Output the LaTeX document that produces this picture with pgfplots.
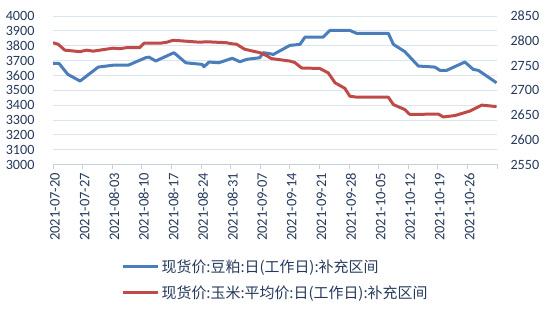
\documentclass[border=0pt]{standalone}
\usepackage{pgfplots}
\pgfplotsset{compat=1.18}
\usepackage{fontspec}
\setmainfont{Carlito}
\newfontfamily\cjk{Noto Sans CJK SC}
\definecolor{sblue}{RGB}{74,126,187}
\definecolor{sred}{RGB}{190,75,72}
\definecolor{tcol}{RGB}{38,58,92}
\definecolor{gridc}{RGB}{220,228,238}
\definecolor{axc}{RGB}{200,208,218}
\pgfplotstableread{
d v
0 3681
1.4 3681
3.5 3607
6.4 3562
10.7 3656
14.6 3670
17.9 3670
21.9 3719
22.7 3723
24.3 3697
28.6 3753
31.4 3685
35.3 3674
35.7 3658
36.9 3690
39.2 3685
42.4 3715
44.2 3692
45.8 3708
48.9 3719
49.7 3753
51.3 3746
52.1 3741
56 3802
58.4 3809
59.6 3858
63.9 3858
65.5 3903
70.2 3903
71.8 3883
79.3 3883
80.5 3809
83.2 3760
86.4 3663
90.3 3656
91.5 3634
93.1 3634
97.4 3690
99.4 3640
100.6 3634
104.9 3550
}\soy
\pgfplotstableread{
d v
0 2796
1.2 2793
2.8 2781
6.4 2778
7.9 2781
9.5 2779
14.2 2785
15.8 2784
17.4 2786
20.5 2786
21.5 2795
25.3 2795
26.9 2797
28.4 2801
31.6 2799
34.7 2797
36.3 2798
41 2796
42.2 2794
43.4 2793
45.3 2783
47.3 2779
48.9 2776
50.5 2770
51.6 2764
56 2759
57.2 2756
58.8 2745
63.1 2744
65.1 2735
66.7 2715
69 2704
70.2 2688
71.8 2686
79.3 2686
80.5 2671
83.2 2661
84.4 2651
91.1 2652
92.3 2646
95.1 2649
98.6 2658
101.4 2670
104.9 2667
}\corn
\begin{document}
\begin{tikzpicture}
\useasboundingbox (0,0) rectangle (550bp,316bp);
\pgfplotsset{
  common/.style={
    at={(53bp,151.5bp)}, anchor=south west,
    scale only axis, width=444bp, height=148.5bp,
    xmin=0, xmax=105,
    /pgf/number format/assume math mode=true,
    /pgf/number format/set thousands separator={},
    tick label style={font=\fontsize{14.2}{15}\selectfont, text=tcol},
    ytick style={draw=none},
  }
}
\begin{axis}[common,
  ymin=3000, ymax=4000,
  ytick={3000,3100,...,4000},
  xtick={0,7,...,105},
  xticklabels={2021-07-20,2021-07-27,2021-08-03,2021-08-10,2021-08-17,2021-08-24,2021-08-31,2021-09-07,2021-09-14,2021-09-21,2021-09-28,2021-10-05,2021-10-12,2021-10-19,2021-10-26,{}},
  x tick label style={rotate=90, anchor=east, font=\fontsize{14.6}{15}\selectfont},
  xticklabel style={yshift=-2bp},
  ymajorgrids, grid style={gridc, line width=0.8bp},
  axis x line*=bottom, axis y line*=left,
  y axis line style={draw=none},
  x axis line style={axc, line width=0.8bp},
  xtick style={axc, line width=0.8bp},
  tick align=outside, major tick length=5bp,
  yticklabel style={xshift=-10bp},
]
\addplot[sblue, line width=3bp, line join=round] table[x=d,y=v]{\soy};
\end{axis}
\begin{axis}[common,
  ymin=2550, ymax=2850,
  ytick={2550,2600,...,2850},
  axis x line=none,
  axis y line*=right,
  y axis line style={draw=none},
  yticklabel style={xshift=10bp},
  legend style={at={(0.153,-0.625)}, anchor=north west, draw=none, fill=none,
    font=\cjk\fontsize{15}{16}\selectfont, text=tcol, row sep=8bp, inner sep=0pt},
  legend cell align=left,
  legend image code/.code={\draw[#1, line width=3.5bp] (0bp,0bp) -- (35bp,0bp);},
]
\addlegendimage{sblue}
\addlegendentry{现货价:豆粕:日(工作日):补充区间}
\addplot[sred, line width=3bp, line join=round] table[x=d,y=v]{\corn};
\addlegendentry{现货价:玉米:平均价:日(工作日):补充区间}
\end{axis}
\end{tikzpicture}
\end{document}
